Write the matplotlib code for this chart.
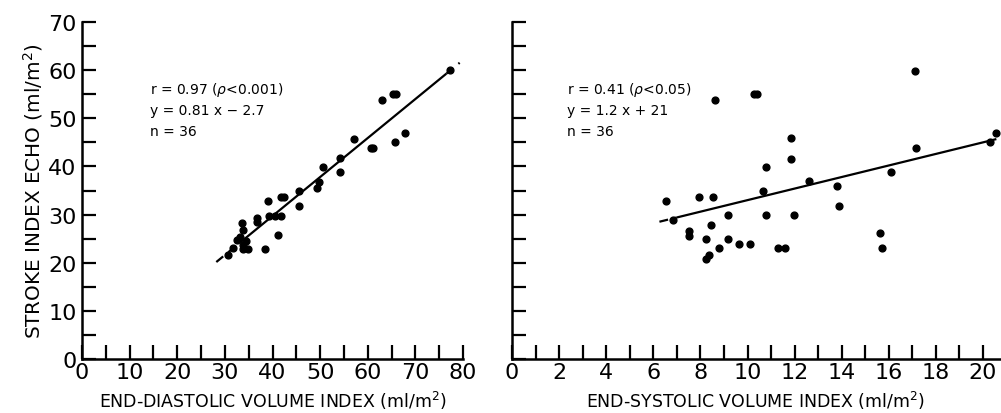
import matplotlib
matplotlib.use("Agg")
import matplotlib.pyplot as plt
import numpy as np

# Left panel: end-diastolic volume index vs stroke index echo
edvi = [77.2, 63.0, 65.2, 66.0, 65.7, 67.8, 57.2, 60.6, 61.0, 54.2, 54.2, 50.7,
        49.8, 49.3, 45.5, 45.6, 41.8, 42.4, 39.0, 39.3, 40.6, 41.8, 41.2, 36.7,
        36.7, 38.4, 33.5, 33.8, 33.2, 32.6, 33.9, 34.9, 33.9, 31.7, 30.6, 34.5]
si_left = [60.0, 53.8, 55.0, 55.0, 45.0, 46.9, 45.8, 43.9, 43.9, 41.8, 38.8, 39.8,
           36.8, 35.6, 34.8, 31.7, 33.7, 33.7, 32.8, 29.7, 29.7, 29.7, 25.7, 29.2,
           28.4, 22.8, 28.2, 26.8, 25.4, 24.8, 23.7, 22.8, 22.8, 23.0, 21.6, 24.5]

# Right panel: end-systolic volume index vs stroke index echo
esvi = [17.13, 8.62, 10.28, 10.42, 11.83, 17.17, 20.28, 20.57, 11.84, 10.78,
        16.11, 12.60, 13.78, 10.67, 13.88, 6.54, 7.96, 8.55, 6.83, 9.19,
        10.77, 11.97, 8.44, 7.53, 7.53, 8.25, 9.16, 8.78, 9.64, 10.09,
        11.28, 11.60, 15.62, 15.69, 8.38, 8.22]
si_right = [59.8, 53.9, 55.0, 55.0, 45.9, 43.8, 45.0, 46.9, 41.5, 39.9,
            38.8, 36.9, 35.9, 34.9, 31.8, 32.8, 33.7, 33.7, 28.8, 30.0,
            29.9, 29.9, 27.9, 25.6, 26.6, 24.9, 24.9, 23.0, 23.8, 23.9,
            23.0, 23.0, 26.1, 23.1, 21.7, 20.7]

# Regression lines (slope, intercept, solid range, full range)
fit_left = (0.81, -2.7)
fit_left_solid = (34.0, 76.5)
fit_left_full = (28.2, 79.3)
fit_right = (1.2, 21.0)
fit_right_solid = (7.0, 20.2)
fit_right_full = (6.26, 20.7)

ann_left = ["r = 0.97 ($\\rho$<0.001)", "y = 0.81 x \u2212 2.7", "n = 36"]
ann_right = ["r = 0.41 ($\\rho$<0.05)", "y = 1.2 x + 21", "n = 36"]

plt.rcParams['font.family'] = ['DejaVu Sans']
fig = plt.figure(figsize=(10.01, 4.14), dpi=100)
W, H = 1001, 414
axL = fig.add_axes([82 / W, (414 - 360) / H, 381 / W, 337 / H])
axR = fig.add_axes([512 / W, (414 - 360) / H, 487.5 / W, 337 / H])


def style(ax):
    for s in ["top", "right"]:
        ax.spines[s].set_visible(False)
    for s in ["left", "bottom"]:
        ax.spines[s].set_linewidth(1.8)
    ax.tick_params(direction="in", length=10, width=1.6, labelsize=16)
    ax.tick_params(axis="x", pad=2)
    ax.tick_params(axis="y", pad=4)
    ax.set_ylim(0, 70)
    ax.set_yticks(np.arange(0, 71, 5))


def draw_fit(ax, fit, solid, full):
    m, b = fit
    xs = np.linspace(solid[0], solid[1], 50)
    ax.plot(xs, m * xs + b, color="black", lw=1.6, solid_capstyle="butt")
    for a, c in [(full[0], solid[0]), (solid[1], full[1])]:
        xd = np.array([a, c])
        ax.plot(xd, m * xd + b, color="black", lw=1.6, ls=(0, (4, 3)))


style(axL)
axL.set_xlim(0, 80)
axL.set_xticks(np.arange(0, 81, 5))
axL.set_xticklabels([str(v) if v % 10 == 0 else "" for v in range(0, 81, 5)])
axL.set_yticklabels([str(v) if v % 10 == 0 else "" for v in range(0, 71, 5)])
axL.scatter(edvi, si_left, s=24, color="black", zorder=3)
draw_fit(axL, fit_left, fit_left_solid, fit_left_full)
axL.set_xlabel("END-DIASTOLIC VOLUME INDEX (ml/m$^2$)", fontsize=12.5)
axL.xaxis.set_label_coords(0.5, -0.088)
axL.set_ylabel("STROKE INDEX ECHO (ml/m$^2$)", fontsize=14.4, labelpad=2)
for i, t in enumerate(ann_left):
    axL.text(14.3, 56.1 - i * 4.4, t, fontsize=10, va="center", ha="left")

style(axR)
axR.set_xlim(0, 20.7)
axR.set_xticks(np.arange(0, 21, 1))
axR.set_xticklabels([str(v) if v % 2 == 0 else "" for v in range(0, 21)])
axR.set_yticklabels([])
axR.scatter(esvi, si_right, s=24, color="black", zorder=3)
draw_fit(axR, fit_right, fit_right_solid, fit_right_full)
axR.set_xlabel("END-SYSTOLIC VOLUME INDEX (ml/m$^2$)", fontsize=12.5)
axR.xaxis.set_label_coords(0.5, -0.088)
for i, t in enumerate(ann_right):
    axR.text(2.34, 56.1 - i * 4.4, t, fontsize=10, va="center", ha="left")

fig.savefig("out.png", dpi=100)
